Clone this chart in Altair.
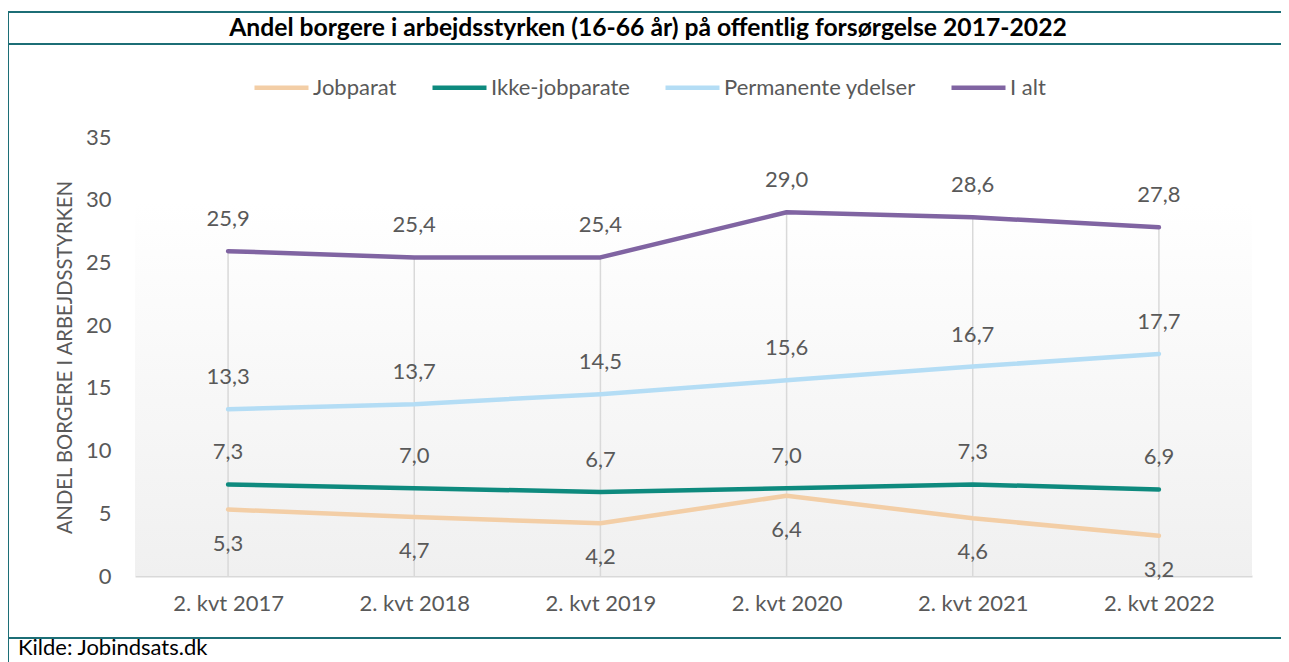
import altair as alt
import pandas as pd

# ---- data ----
categories = ["2. kvt 2017", "2. kvt 2018", "2. kvt 2019", "2. kvt 2020", "2. kvt 2021", "2. kvt 2022"]
series_names = ["Jobparat", "Ikke-jobparate", "Permanente ydelser", "I alt"]
jobparat = [5.3, 4.7, 4.2, 6.4, 4.6, 3.2]
ikke_jobparate = [7.3, 7.0, 6.7, 7.0, 7.3, 6.9]
permanente = [13.3, 13.7, 14.5, 15.6, 16.7, 17.7]
i_alt = [25.9, 25.4, 25.4, 29.0, 28.6, 27.8]
y_ticks = [0, 5, 10, 15, 20, 25, 30, 35]
title_text = "Andel borgere i arbejdsstyrken (16-66 år) på offentlig forsørgelse 2017-2022"
y_title = "ANDEL BORGERE I ARBEJDSSTYRKEN"
source_text = "Kilde: Jobindsats.dk"

series_colors = ["#F3CEA6", "#0E8A7E", "#B4DDF5", "#8064A2"]
FRAME = "#1C6E76"
GREY_TXT = "#595959"
FONT = "Lato"

rows = []
for name, vals in zip(series_names, [jobparat, ikke_jobparate, permanente, i_alt]):
    for cat, v in zip(categories, vals):
        rows.append({"kvartal": cat, "serie": name, "vaerdi": v,
                     "label": f"{v:.1f}".replace(".", ","), "nul": 0})
df = pd.DataFrame(rows)
df_total = df[df["serie"] == "I alt"]

W, H = 1117, 439

x_enc = alt.X("kvartal:N", sort=categories,
              scale=alt.Scale(type="point", padding=0.5),
              axis=alt.Axis(title=None, labelFontSize=22, labelColor=GREY_TXT, labelFont=FONT,
                            labelPadding=17, ticks=False, grid=False,
                            domainColor="#D9D9D9", domainWidth=2, labelAngle=0))
y_scale = alt.Scale(domain=[0, 35], nice=False, zero=True)
y_axis = alt.Axis(values=y_ticks, title=y_title, titleFontSize=20.2, titleFont=FONT,
                  titleFontWeight="normal", titleColor=GREY_TXT, titleX=-70, titleY=220,
                  titleAngle=270, titleAlign="center", titleBaseline="middle",
                  labelFontSize=22, labelColor=GREY_TXT, labelFont=FONT,
                  labelPadding=24, ticks=False, grid=False, domain=False)
y_enc = alt.Y("vaerdi:Q", scale=y_scale, axis=y_axis)

one = alt.Data(values=[{"k": 1}])

background = alt.Chart(one).mark_rect(
    fill=alt.LinearGradient(gradient="linear",
                            stops=[alt.GradientStop(color="#FFFFFF", offset=0),
                                   alt.GradientStop(color="#FFFFFF", offset=0.15),
                                   alt.GradientStop(color="#F0F0F0", offset=1)],
                            x1=0, x2=0, y1=0, y2=1)
).encode(x=alt.value(0), x2=alt.value("width"), y=alt.value(0), y2=alt.value("height"))

drops = alt.Chart(df_total).mark_rule(color="#D9D9D9", strokeWidth=1.5).encode(
    x=x_enc, y=y_enc, y2="nul:Q")

lines = alt.Chart(df).mark_line(strokeWidth=4.5, strokeCap="round", strokeJoin="round").encode(
    x=x_enc, y=y_enc,
    color=alt.Color("serie:N", sort=series_names,
                    scale=alt.Scale(domain=series_names, range=series_colors),
                    legend=alt.Legend(title=None, orient="none", legendX=117, legendY=-79,
                                      direction="horizontal", symbolType="stroke",
                                      symbolSize=2916, symbolStrokeWidth=4.5,
                                      labelFontSize=22, labelColor=GREY_TXT, labelFont=FONT,
                                      labelLimit=0, labelOffset=2, columnPadding=26, padding=0)),
    order=alt.Order("kvartal:N"))

labels_above = alt.Chart(df).transform_filter(alt.datum.serie != "Jobparat").mark_text(
    dy=-32, fontSize=22, font=FONT, color=GREY_TXT, baseline="middle", align="center"
).encode(x=x_enc, y=y_enc, text="label:N")

labels_below = alt.Chart(df).transform_filter(alt.datum.serie == "Jobparat").mark_text(
    dy=34, fontSize=22, font=FONT, color=GREY_TXT, baseline="middle", align="center"
).encode(x=x_enc, y=y_enc, text="label:N")

def hrule(y, x1=-128, x2=1160):
    return alt.Chart(one).mark_rule(color=FRAME, strokeWidth=2).encode(
        x=alt.value(x1), x2=alt.value(x2), y=alt.value(y))

frame_top = hrule(-125)
frame_title = hrule(-93)
frame_bottom = hrule(501)
frame_left = alt.Chart(one).mark_rule(color=FRAME, strokeWidth=2).encode(
    x=alt.value(-127), y=alt.value(-125), y2=alt.value(530))

title = alt.Chart(one).mark_text(text=title_text, fontSize=24.7, fontWeight="bold", font=FONT,
                                 color="#000000", align="center", baseline="middle").encode(
    x=alt.value(513), y=alt.value(-108))

source = alt.Chart(one).mark_text(text=source_text, fontSize=22, font=FONT, color="#000000",
                                  align="left", baseline="alphabetic").encode(
    x=alt.value(-117), y=alt.value(518))

chart = alt.layer(background, drops, lines, labels_above, labels_below,
                  frame_top, frame_title, frame_bottom, frame_left, title, source).properties(
    width=W, height=H,
    autosize=alt.AutoSizeParams(type="none"),
    padding={"left": 127, "top": 129, "right": 29, "bottom": 86},
    background="white",
).configure_view(stroke=None)

chart.save("out.html", embed_options={"renderer": "svg", "actions": False})
